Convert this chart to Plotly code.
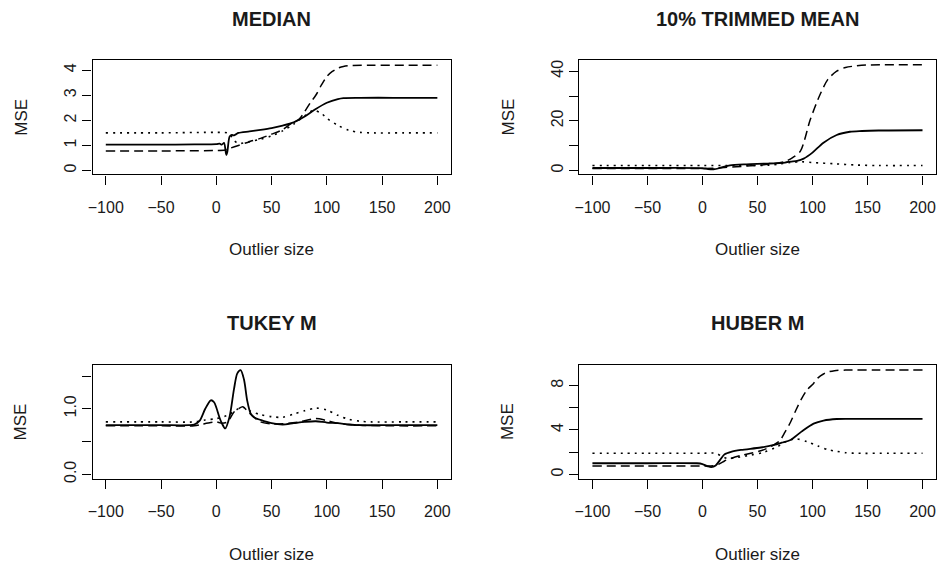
import plotly.graph_objects as go

W, H = 939, 565

# ---------------- data ----------------
panel_titles = ["MEDIAN", "10% TRIMMED MEAN", "TUKEY M", "HUBER M"]
x_title = "Outlier size"
y_title = "MSE"

x_tickvals = [-100, -50, 0, 50, 100, 150, 200]
x_ticktext = ["\u2212100", "\u221250", "0", "50", "100", "150", "200"]

med_y_tickvals = [0, 1, 2, 3, 4]
med_y_ticktext = ["0", "1", "2", "3", "4"]
trim_y_tickvals = [0, 10, 20, 30, 40]
trim_y_ticktext = ["0", "", "20", "", "40"]
tuk_y_tickvals = [0.0, 0.5, 1.0, 1.5]
tuk_y_ticktext = ["0.0", "", "1.0", ""]
hub_y_tickvals = [0, 2, 4, 6, 8]
hub_y_ticktext = ["0", "", "4", "", "8"]

# MEDIAN
med_solid_x = [-100, -50, -20, 0, 3, 5, 7, 9, 10, 12, 14, 16, 18, 20, 30, 40, 50, 60, 70, 80, 90, 100, 110, 115, 130, 160, 200]
med_solid_y = [1.03, 1.03, 1.04, 1.05, 1.07, 1.03, 1.10, 0.62, 0.75, 1.35, 1.42, 1.40, 1.45, 1.50, 1.56, 1.62, 1.69, 1.79, 1.92, 2.15, 2.45, 2.70, 2.85, 2.89, 2.90, 2.90, 2.90]
med_dash_x = [-100, -50, 0, 8, 12, 20, 30, 40, 50, 60, 67, 75, 80, 85, 90, 95, 100, 105, 110, 115, 120, 140, 170, 200]
med_dash_y = [0.78, 0.78, 0.80, 0.82, 0.88, 1.00, 1.15, 1.28, 1.45, 1.63, 1.85, 2.05, 2.35, 2.70, 3.00, 3.40, 3.75, 3.95, 4.08, 4.15, 4.18, 4.20, 4.20, 4.20]
med_dot_x = [-100, -50, 0, 10, 13, 16, 20, 30, 40, 50, 60, 70, 80, 88, 95, 100, 110, 120, 130, 140, 170, 200]
med_dot_y = [1.50, 1.50, 1.52, 1.50, 1.40, 1.20, 1.08, 1.15, 1.25, 1.38, 1.58, 1.85, 2.18, 2.40, 2.28, 2.08, 1.80, 1.60, 1.52, 1.50, 1.50, 1.50]

# 10% TRIMMED MEAN
trim_solid_x = [-100, -50, 0, 5, 10, 15, 20, 25, 40, 60, 75, 80, 86, 92, 100, 110, 122, 134, 145, 160, 200]
trim_solid_y = [1.0, 1.0, 0.9, 0.6, 0.5, 0.9, 1.6, 2.1, 2.5, 2.8, 3.2, 3.6, 3.9, 4.8, 7.2, 11.2, 14.3, 15.6, 15.9, 16.1, 16.2]
trim_dash_x = [-100, -50, 0, 10, 20, 40, 60, 75, 82, 89, 98, 107, 114, 122, 130, 137, 150, 200]
trim_dash_y = [0.8, 0.8, 0.8, 0.9, 1.2, 1.8, 2.5, 3.6, 5.2, 7.8, 20.5, 30.7, 36.7, 40.0, 41.5, 42.0, 42.5, 42.6]
trim_dot_x = [-100, -50, 0, 30, 60, 70, 80, 90, 100, 120, 140, 160, 200]
trim_dot_y = [2.0, 2.0, 2.0, 2.0, 2.1, 2.6, 3.2, 3.5, 3.2, 2.7, 2.2, 2.0, 2.0]

# TUKEY M
tuk_solid_x = [-100, -50, -25, -20, -15, -10, -5, -2, 0, 3, 5, 8, 12, 16, 19, 22, 25, 28, 31, 34, 40, 50, 60, 70, 80, 90, 100, 110, 120, 130, 160, 200]
tuk_solid_y = [0.75, 0.75, 0.75, 0.76, 0.82, 1.00, 1.13, 1.10, 1.02, 0.86, 0.78, 0.70, 0.88, 1.30, 1.54, 1.59, 1.45, 1.12, 0.93, 0.87, 0.83, 0.78, 0.76, 0.78, 0.80, 0.81, 0.79, 0.78, 0.76, 0.75, 0.75, 0.75]
tuk_dash_x = [-100, -50, -20, -14, -5, 0, 5, 10, 16, 20, 24, 29, 35, 40, 50, 60, 75, 90, 100, 110, 130, 160, 200]
tuk_dash_y = [0.74, 0.74, 0.74, 0.76, 0.79, 0.80, 0.78, 0.80, 0.95, 1.00, 1.03, 0.95, 0.86, 0.80, 0.77, 0.77, 0.80, 0.85, 0.82, 0.78, 0.75, 0.74, 0.74]
tuk_dot_x = [-100, -50, -20, -10, 0, 10, 20, 25, 30, 40, 50, 60, 70, 80, 90, 100, 110, 120, 130, 140, 170, 200]
tuk_dot_y = [0.80, 0.80, 0.80, 0.83, 0.85, 0.90, 1.00, 1.02, 0.97, 0.91, 0.88, 0.87, 0.92, 0.97, 1.01, 0.98, 0.90, 0.84, 0.81, 0.80, 0.80, 0.80]

# HUBER M
hub_solid_x = [-100, -50, -5, 0, 5, 8, 12, 16, 20, 26, 35, 53, 65, 72, 80, 90, 101, 110, 122, 140, 200]
hub_solid_y = [1.0, 1.0, 1.0, 0.93, 0.72, 0.65, 0.80, 1.30, 1.80, 2.03, 2.20, 2.42, 2.65, 2.85, 3.10, 3.85, 4.57, 4.85, 4.99, 5.00, 5.00]
hub_dash_x = [-100, -50, 0, 10, 15, 20, 23, 35, 53, 63, 70, 75, 80, 85, 90, 95, 101, 105, 110, 115, 120, 130, 160, 200]
hub_dash_y = [0.75, 0.75, 0.75, 0.78, 0.92, 1.20, 1.34, 1.70, 2.12, 2.55, 3.00, 3.80, 4.70, 5.80, 6.80, 7.60, 8.20, 8.70, 9.05, 9.25, 9.35, 9.40, 9.40, 9.40]
hub_dot_x = [-100, -50, 0, 12, 18, 23, 30, 44, 56, 68, 76, 85, 95, 105, 115, 122, 130, 140, 170, 200]
hub_dot_y = [1.9, 1.9, 1.9, 1.9, 1.6, 1.43, 1.5, 1.74, 2.0, 2.48, 2.95, 3.20, 2.95, 2.55, 2.20, 2.08, 1.95, 1.90, 1.90, 1.90]

# ---------------- layout geometry (pixels) ----------------
cols = [(88.0, 448.0), (577.3, 935.7)]
rows = [(60.7, 175.7), (367.7, 482.3)]

def px_x(p):
    return p / W

def px_y(p):
    return 1 - p / H

FONT = "Liberation Sans, Arial, Helvetica, sans-serif"
TXT = "#1a1a1a"

fig = go.Figure()

panels = [
    (0, 0, [(med_solid_x, med_solid_y), (med_dash_x, med_dash_y), (med_dot_x, med_dot_y)], (-0.158, 4.396), med_y_tickvals, med_y_ticktext),
    (0, 1, [(trim_solid_x, trim_solid_y), (trim_dash_x, trim_dash_y), (trim_dot_x, trim_dot_y)], (-1.6, 44.4), trim_y_tickvals, trim_y_ticktext),
    (1, 0, [(tuk_solid_x, tuk_solid_y), (tuk_dash_x, tuk_dash_y), (tuk_dot_x, tuk_dot_y)], (-0.07, 1.667), tuk_y_tickvals, tuk_y_ticktext),
    (1, 1, [(hub_solid_x, hub_solid_y), (hub_dash_x, hub_dash_y), (hub_dot_x, hub_dot_y)], (-0.41, 9.85), hub_y_tickvals, hub_y_ticktext),
]

styles = [
    dict(color="black", width=1.8, dash="solid"),
    dict(color="black", width=1.5, dash="9px,5px"),
    dict(color="black", width=1.6, dash="2px,5px"),
]

annotations = []
for i, (r, c, series, yr, ytv, ytt) in enumerate(panels):
    n = i + 1
    xa = "x" if n == 1 else f"x{n}"
    ya = "y" if n == 1 else f"y{n}"
    for (sx, sy), st in zip(series, styles):
        fig.add_trace(go.Scatter(x=sx, y=sy, mode="lines", line=dict(shape="spline", smoothing=0.8, **st),
                                 xaxis=xa, yaxis=ya, showlegend=False, hoverinfo="skip"))
    x0, x1 = cols[c]
    y0, y1 = rows[r]
    axis_common = dict(showline=True, linecolor="black", linewidth=1.2, mirror=True,
                       ticks="outside", ticklen=9, tickwidth=1.2, tickcolor="black",
                       showgrid=False, zeroline=False,
                       tickfont=dict(family=FONT, size=16, color=TXT))
    fig.update_layout(**{
        ("xaxis" if n == 1 else f"xaxis{n}"): dict(
            domain=[px_x(x0), px_x(x1)], range=[-112, 212], anchor=ya,
            tickvals=x_tickvals, ticktext=x_ticktext, ticklabelstandoff=9, **axis_common),
        ("yaxis" if n == 1 else f"yaxis{n}"): dict(
            domain=[px_y(y1), px_y(y0)], range=list(yr), anchor=xa,
            tickvals=ytv, ticktext=ytt, tickangle=-90, **axis_common),
    })
    cx = (x0 + x1) / 2
    annotations.append(dict(text=f"<b>{panel_titles[i]}</b>", x=px_x(cx), y=px_y(y0 - 41.9),
                            xref="paper", yref="paper", showarrow=False, xanchor="center", yanchor="middle",
                            font=dict(family=FONT, size=20, color=TXT)))
    annotations.append(dict(text=x_title, x=px_x(cx), y=px_y(y1 + 76), xref="paper", yref="paper",
                            showarrow=False, xanchor="center", yanchor="middle",
                            font=dict(family=FONT, size=17, color=TXT)))
    annotations.append(dict(text=y_title, x=px_x(x0 - 71.5), y=px_y((y0 + y1) / 2), xref="paper", yref="paper",
                            showarrow=False, xanchor="center", yanchor="middle", textangle=-90,
                            font=dict(family=FONT, size=17, color=TXT)))

fig.update_layout(width=W, height=H, margin=dict(l=0, r=0, t=0, b=0),
                  paper_bgcolor="white", plot_bgcolor="white", annotations=annotations)

fig.write_html("out.html", config={"displayModeBar": False},
               post_script="document.body.style.margin='0';document.body.style.overflow='hidden';")
